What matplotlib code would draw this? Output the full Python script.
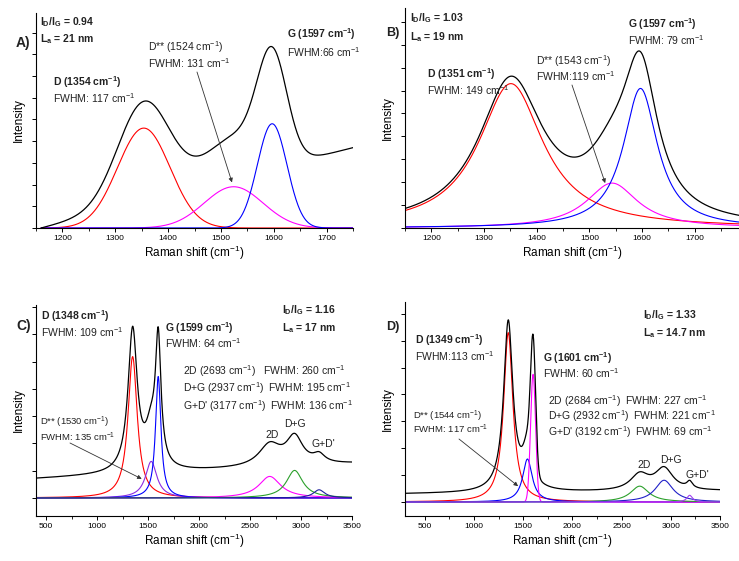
import numpy as np
import matplotlib.pyplot as plt

plt.rcParams['font.family'] = ['Liberation Sans', 'DejaVu Sans']
plt.rcParams['mathtext.default'] = 'regular'

W, H = 739, 561

# peak fits: centre (cm-1), FWHM (cm-1), height (a.u.)
# panel A
a_center = [1354, 1524, 1597]
a_fwhm = [117, 131, 66]
a_height = [4.6, 1.9, 4.8]
a_shape = ['G', 'G', 'G']
a_base = [0.0, 3.7]          # background under the measured curve, at both ends
a_range = [1160, 1750]

# panel B
b_center = [1351, 1543, 1597]
b_fwhm = [149, 119, 79]
b_height = [6.3, 1.96, 6.09]
b_shape = ['L', 'L', 'L']
b_base = [0.0, 0.0]
b_range = [1150, 1790]

# panel C: D, D**, G, 2D, D+G, G+D'
c_center = [1348, 1530, 1599, 2693, 2937, 3177]
c_fwhm = [109, 135, 64, 260, 195, 136]
c_height = [5.18, 1.34, 4.45, 0.79, 1.01, 0.30]
c_shape = ['L', 'L', 'L', 'L', 'L', 'L']
c_base = [0.70, 1.25]
c_range = [400, 3500]

# panel D: D, D**, G, 2D, D+G, G+D'
d_center = [1349, 1544, 1601, 2684, 2932, 3192]
d_fwhm = [113, 117, 60, 227, 221, 69]
d_height = [6.3, 1.6, 4.75, 0.59, 0.81, 0.25]
d_shape = ['L', 'L', 'G', 'L', 'L', 'L']
d_base = [0.30, 0.41]
d_range = [300, 3500]


def peak(x, c, w, h, shape):
    if shape == 'G':
        return h * np.exp(-4 * np.log(2) * (x - c) ** 2 / w ** 2)
    return h / (1 + ((x - c) / (w / 2)) ** 2)


def draw(ax, centers, fwhms, heights, shapes, base, xr, colors):
    x = np.linspace(xr[0], xr[1], 1500)
    total = np.zeros_like(x)
    for c, w, h, s, col in zip(centers, fwhms, heights, shapes, colors):
        y = peak(x, c, w, h, s)
        total += y
        ax.plot(x, y, color=col, lw=0.8)
    total += base[0] + (base[1] - base[0]) * (x - xr[0]) / (xr[1] - xr[0])
    ax.plot(x, total, color='black', lw=0.9)


def style(ax, xlim, ylim, major, minor, ystep):
    for s in ['top', 'right']:
        ax.spines[s].set_visible(False)
    for s in ['left', 'bottom']:
        ax.spines[s].set_linewidth(0.8)
    ax.set_xticks(np.arange(0, 4000, major))
    ax.set_xticks(np.arange(0, 4000, minor), minor=True)
    ax.set_xlim(*xlim)
    ax.set_ylim(*ylim)
    ax.set_yticks(np.arange(0, ylim[1], ystep))
    ax.set_yticklabels([])
    ax.tick_params(axis='both', which='major', direction='out', length=3, width=0.7, labelsize=6, pad=2)
    ax.tick_params(axis='x', which='minor', direction='out', length=2, width=0.6)
    ax.set_xlabel('Raman shift (cm$^{-1}$)', fontsize=8.5, labelpad=1)
    ax.set_ylabel('Intensity', fontsize=8.5, labelpad=3)


def px(x, y):
    return x / W, 1 - y / H


def txt(x, y, s, size=7.5, bold=False):
    fig.text(*px(x, y), s, fontsize=size, fontweight='bold' if bold else 'normal',
             ha='left', va='center', color='#222222')


def arrow(ax, head, tail):
    ax.annotate('', xy=head, xycoords='data', xytext=px(*tail), textcoords='figure fraction',
                arrowprops=dict(arrowstyle='-|>', color='#333333', lw=0.6, mutation_scale=6,
                                shrinkA=0, shrinkB=0))


fig = plt.figure(figsize=(W / 100, H / 100), dpi=100)

axA = fig.add_axes([36 / W, 1 - 228 / H, 317 / W, 215 / H])
axB = fig.add_axes([405 / W, 1 - 228 / H, 334 / W, 220 / H])
axC = fig.add_axes([36 / W, 1 - 516 / H, 316 / W, 211 / H])
axD = fig.add_axes([405 / W, 1 - 516 / H, 315 / W, 214 / H])

draw(axA, a_center, a_fwhm, a_height, a_shape, a_base, a_range, ['red', 'magenta', 'blue'])
draw(axB, b_center, b_fwhm, b_height, b_shape, b_base, b_range, ['red', 'magenta', 'blue'])
draw(axC, c_center, c_fwhm, c_height, c_shape, c_base, c_range,
     ['red', '#8a2be2', 'blue', 'magenta', '#2ca02c', '#1c1c9c'])
draw(axD, d_center, d_fwhm, d_height, d_shape, d_base, d_range,
     ['red', 'blue', 'magenta', '#2ca02c', '#2020c8', '#a040f0'])

style(axA, (1150, 1750), (0, 9.9), 100, 50, 1)
style(axB, (1150, 1784), (0, 9.6), 100, 50, 1)
style(axC, (400, 3500), (-0.66, 7.07), 500, 250, 1)
style(axD, (300, 3500), (-0.52, 7.44), 500, 250, 1)

# panel A
txt(16, 43, 'A)', 10, True)
txt(40, 22, 'I$_D$/I$_G$ = 0.94', 7.5, True)
txt(40, 39, 'L$_a$ = 21 nm', 7.5, True)
txt(53, 82, 'D (1354 cm$^{-1}$)', 7.5, True)
txt(53, 98, 'FWHM: 117 cm$^{-1}$')
txt(148, 47, 'D** (1524 cm$^{-1}$)')
txt(148, 63, 'FWHM: 131 cm$^{-1}$')
txt(287, 34, 'G (1597 cm$^{-1}$)', 7.5, True)
txt(287, 52, 'FWHM:66 cm$^{-1}$')
arrow(axA, (1521, 2.1), (197, 72))

# panel B
txt(386, 33, 'B)', 9, True)
txt(410, 18, 'I$_D$/I$_G$ = 1.03', 7.5, True)
txt(410, 37, 'L$_a$ = 19 nm', 7.5, True)
txt(427, 74, 'D (1351 cm$^{-1}$)', 7.5, True)
txt(427, 90, 'FWHM: 149 cm$^{-1}$')
txt(536, 61, 'D** (1543 cm$^{-1}$)')
txt(536, 76, 'FWHM:119 cm$^{-1}$')
txt(628, 24, 'G (1597 cm$^{-1}$)', 7.5, True)
txt(628, 40, 'FWHM: 79 cm$^{-1}$')
arrow(axB, (1530, 1.96), (572, 85))

# panel C
txt(16, 326, 'C)', 10, True)
txt(41, 316, 'D (1348 cm$^{-1}$)', 7.5, True)
txt(41, 332, 'FWHM: 109 cm$^{-1}$')
txt(165, 328, 'G (1599 cm$^{-1}$)', 7.5, True)
txt(165, 343, 'FWHM: 64 cm$^{-1}$')
txt(282, 310, 'I$_D$/I$_G$ = 1.16', 7.5, True)
txt(282, 328, 'L$_a$ = 17 nm', 7.5, True)
txt(183, 371, '2D (2693 cm$^{-1}$)   FWHM: 260 cm$^{-1}$')
txt(183, 388, 'D+G (2937 cm$^{-1}$)  FWHM: 195 cm$^{-1}$')
txt(183, 406, "G+D' (3177 cm$^{-1}$)  FWHM: 136 cm$^{-1}$")
txt(40, 422, 'D** (1530 cm$^{-1}$)', 6.8)
txt(40, 437, 'FWHM: 135 cm$^{-1}$', 6.8)
txt(265, 435, '2D')
txt(284, 424, 'D+G')
txt(312, 444, "G+D'")
arrow(axC, (1437, 0.70), (70, 443))

# panel D
txt(386, 327, 'D)', 9, True)
txt(415, 340, 'D (1349 cm$^{-1}$)', 7.5, True)
txt(415, 356, 'FWHM:113 cm$^{-1}$')
txt(543, 358, 'G (1601 cm$^{-1}$)', 7.5, True)
txt(543, 373, 'FWHM: 60 cm$^{-1}$')
txt(643, 315, 'I$_D$/I$_G$ = 1.33', 7.5, True)
txt(643, 333, 'L$_a$ = 14.7 nm', 7.5, True)
txt(548, 401, '2D (2684 cm$^{-1}$)  FWHM: 227 cm$^{-1}$')
txt(548, 416.5, 'D+G (2932 cm$^{-1}$)  FWHM: 221 cm$^{-1}$')
txt(548, 432, "G+D' (3192 cm$^{-1}$)  FWHM: 69 cm$^{-1}$")
txt(413, 416, 'D** (1544 cm$^{-1}$)', 6.8)
txt(413, 429, 'FWHM: 117 cm$^{-1}$', 6.8)
txt(637, 465, '2D')
txt(660, 460, 'D+G')
txt(685, 475, "G+D'")
arrow(axD, (1449, 0.59), (459, 439))

fig.savefig('out.png', dpi=100)
